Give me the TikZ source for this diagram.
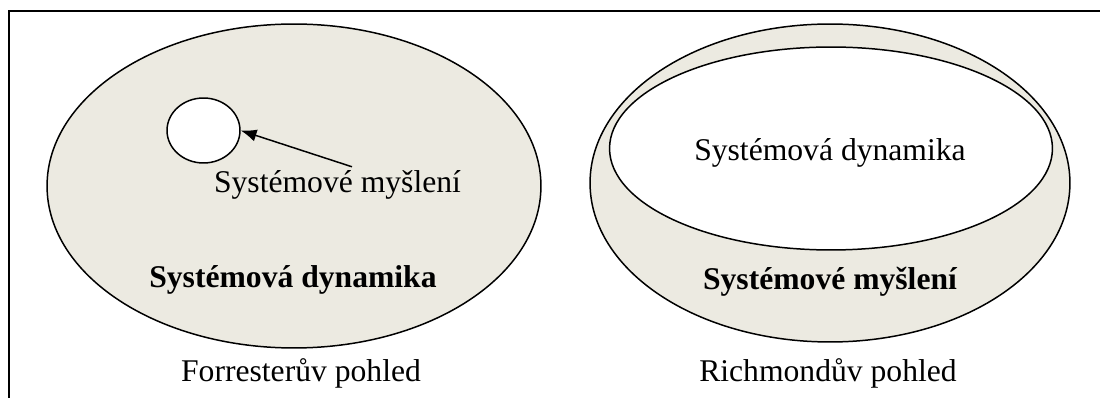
\documentclass[tikz,border=0pt]{standalone}
\usepackage{fontspec}
\setmainfont{Liberation Serif}
\usetikzlibrary{arrows.meta}
\usetikzlibrary{shapes.geometric}

\definecolor{sdfill}{RGB}{236,234,225}

\begin{document}
\begin{tikzpicture}[x=0.02cm,y=-0.02cm,
        every node/.style={font=\fontsize{18}{21}\selectfont},
        oval/.style={ellipse,draw,line width=0.85pt,inner sep=0pt},
        lbl/.style={anchor=base}]
        \useasboundingbox (0,0) rectangle (1100,398);
        \draw[line width=1pt] (9,398) -- (9,11) -- (1100,11); % frame, open at bottom and right
        % Forrester
        \node[oval,fill=sdfill,minimum width=9.88cm,minimum height=6.48cm] (forr) at (294,186) {};
        \node[oval,fill=white,minimum width=1.46cm,minimum height=1.30cm] (myslcirc) at (203.5,130.5) {};
        \node[lbl] (mysltxt) at (337.5,193) {Systémové myšlení};
        \node[lbl] (forrdyn) at (293,288) {\bfseries Systémová dynamika};
        \node[lbl] (forrcap) at (301,382) {Forresterův pohled};
        \draw[line width=0.85pt,-{Latex[length=9pt,width=7pt]}] ([xshift=0.29cm,yshift=-0.04cm]mysltxt.north) -- (myslcirc.east);
        % Richmond
        \node[oval,fill=sdfill,minimum width=9.6cm,minimum height=6.36cm] (rich) at (830,183) {};
        \node[oval,fill=white,minimum width=8.86cm,minimum height=4.06cm] (richin) at (831,148.5) {};
        \node[lbl] (richdyn) at (830,161) {Systémová dynamika};
        \node[lbl] (richmysl) at (830,290) {\bfseries Systémové myšlení};
        \node[lbl] (richcap) at (828,382) {Richmondův pohled};
\end{tikzpicture}
\end{document}
